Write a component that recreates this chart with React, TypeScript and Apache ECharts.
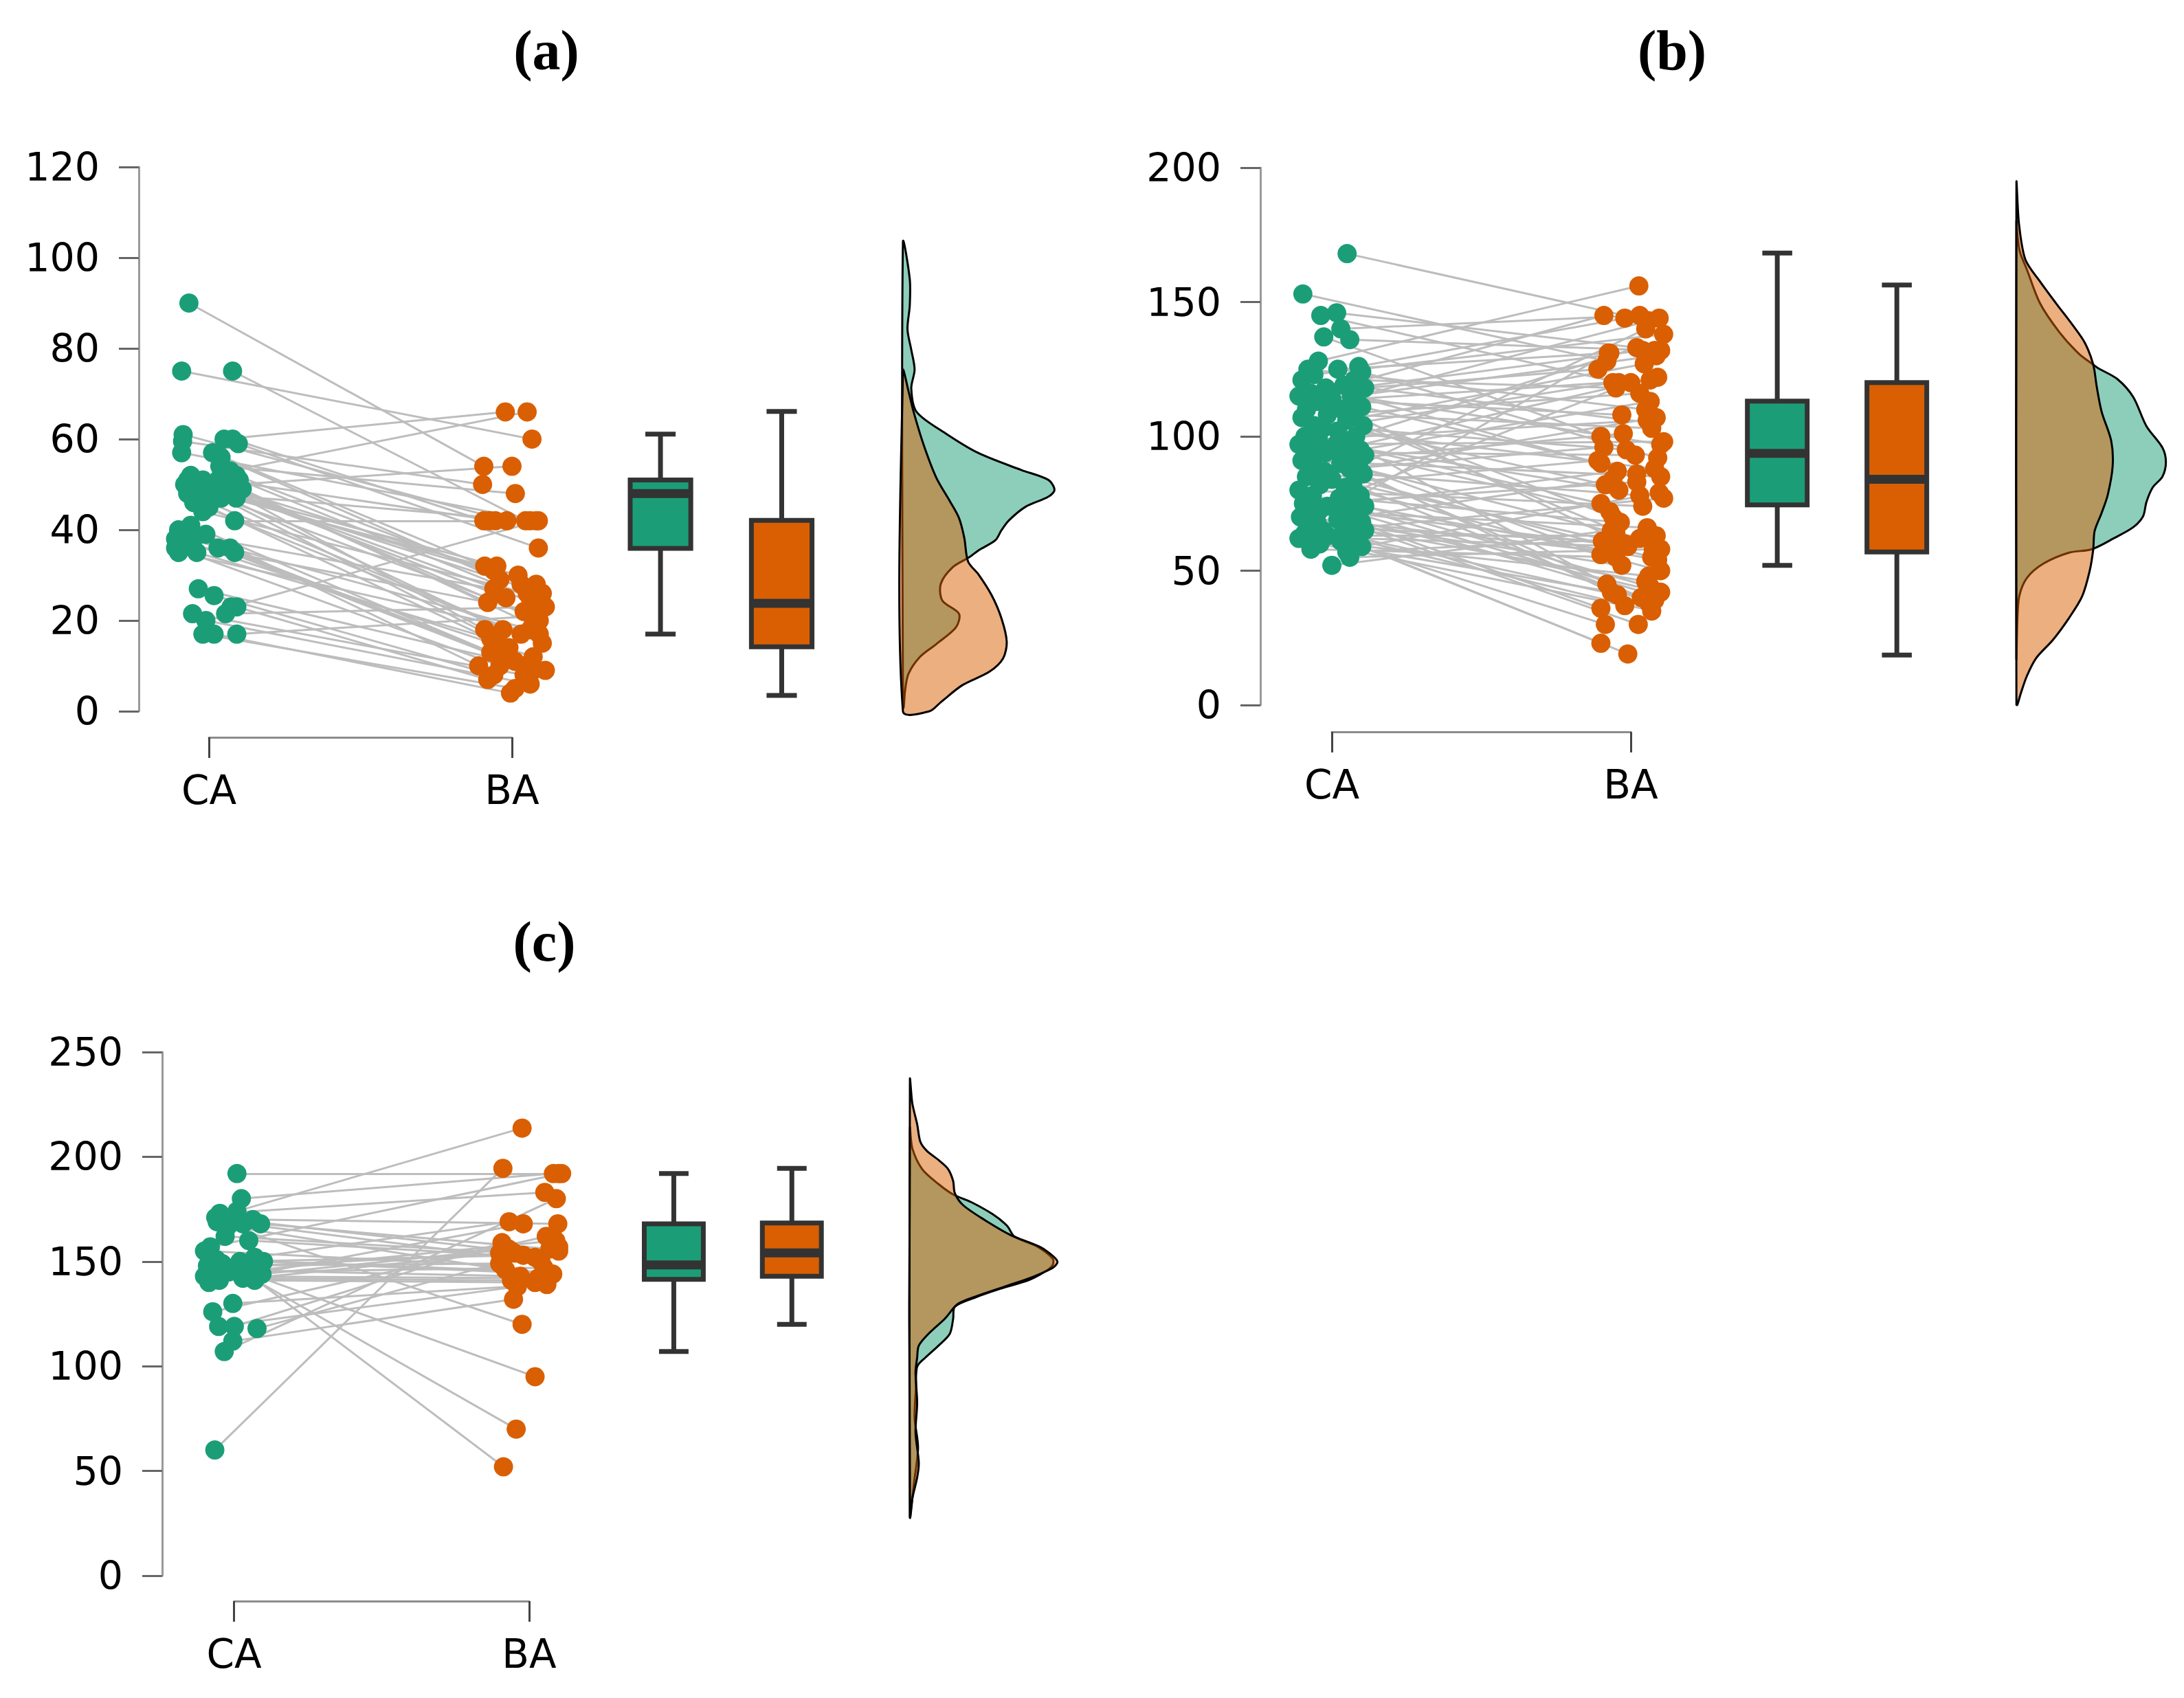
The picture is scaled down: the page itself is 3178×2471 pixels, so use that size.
import React, { useEffect, useRef } from 'react';
import * as echarts from 'echarts';

const GREEN = '#1b9e77';
const ORANGE = '#d95f02';
const GREEN_FILL = 'rgba(27,158,119,0.5)';
const ORANGE_FILL = 'rgba(217,95,2,0.5)';
const FONT = '"DejaVu Sans", Verdana, sans-serif';

const groupLabels = ['CA', 'BA'];
const panelTitles = ['(a)', '(b)', '(c)'];
const yMaxes = [120, 200, 250];
const ySteps = [20, 50, 50];

// ---------- Panel (a) ----------
const caA = [90, 75, 75, 61, 60, 60, 59.5, 59, 57, 57, 56, 54, 53, 52, 52, 51, 51, 51, 51, 50, 50, 50, 50, 50, 49, 49, 49, 48, 48, 48, 48, 47, 47, 46, 45, 44, 42, 41, 40, 39, 39, 38, 38, 37, 36, 36, 36, 35, 35, 35, 27, 25.5, 23, 23, 21.5, 21.5, 20, 17, 17, 17];
const baA = [54, 60, 42, 42, 66, 42, 50, 36, 42, 32, 29, 48, 66, 42, 28, 26, 31, 24, 25, 32, 23, 54, 22, 20, 30, 18, 19, 17, 42, 18, 25, 16, 28, 15, 14, 26, 42, 13, 12, 27, 10, 12, 11, 24, 10, 9, 18, 17, 16, 10, 9, 8, 42, 7, 8, 23, 6, 5, 4, 21];
const caJitA = [-0.066, -0.09, 0.078, -0.085, 0.05, 0.078, -0.087, 0.097, -0.09, 0.012, 0.04, 0.036, 0.07, -0.06, 0.09, -0.07, -0.02, 0.03, 0.1, -0.05, 0.01, 0.09, -0.08, 0.05, -0.04, 0.06, 0.11, -0.07, -0.01, 0.03, 0.08, 0.04, 0.09, -0.05, 0, -0.02, 0.085, -0.06, -0.1, -0.08, -0.01, -0.11, -0.05, -0.09, -0.11, 0.03, 0.07, -0.1, -0.04, 0.085, -0.035, 0.017, 0.073, 0.092, -0.054, 0.055, -0.01, -0.02, 0.017, 0.092];
const baJitA = [-0.093, 0.066, 0.045, -0.017, -0.022, -0.093, -0.097, 0.087, 0.08, -0.09, -0.04, 0.011, 0.05, -0.055, 0.03, 0.1, -0.06, -0.08, 0.06, -0.05, 0.11, 0, 0.04, 0.09, 0.02, -0.09, 0.07, 0.03, 0.06, -0.03, -0.02, -0.05, 0.08, 0.1, -0.01, 0.05, -0.074, -0.07, -0.03, -0.06, -0.11, 0.07, 0.01, -0.08, -0.04, 0.07, 0.06, 0.09, -0.07, 0.04, 0.11, -0.06, 0.087, -0.08, 0.04, 0.1, 0.06, 0.01, -0.005, 0.08];
// [min, Q1, median, Q3, max]
const boxA_CA = [17, 35.9, 48, 51, 61.1];
const boxA_BA = [3.5, 14.2, 23.8, 42.1, 66.1];
// [value, relative density]
const densA_CA = [[103.4, 0], [95.3, 0.045], [89.4, 0.045], [84.2, 0.03], [79.7, 0.055], [75.3, 0.077], [71.2, 0.055], [66, 0.09], [61.3, 0.28], [56.9, 0.5], [53.2, 0.78], [51, 0.96], [48.8, 1], [47.3, 0.96], [45.1, 0.81], [42.1, 0.7], [39.9, 0.65], [37.7, 0.61], [35.5, 0.5], [34, 0.44], [31.8, 0.33], [28.1, 0.25], [24.4, 0.26], [21.5, 0.37], [18.5, 0.35], [14.8, 0.22], [11.9, 0.11], [8.2, 0.036], [4.5, 0.014], [0.8, 0.005]];
const densA_BA = [[75.1, 0], [70.7, 0.036], [66.3, 0.068], [58.9, 0.135], [51.5, 0.22], [46.3, 0.31], [42.6, 0.37], [38.2, 0.405], [33, 0.43], [30.1, 0.5], [25.6, 0.585], [20.5, 0.65], [15.3, 0.685], [11.6, 0.66], [8.7, 0.57], [5.7, 0.39], [2, 0.25], [0, 0.175]];

// ---------- Panel (b) ----------
const caB = [
  168, 153, 146, 145, 140, 137, 136, 128, 126, 125, 125, 124, 123, 121, 121, 119, 118, 118, 116, 115, 115, 114, 113, 113,
  111, 110, 110, 108, 108, 107, 106, 104, 104, 103, 102, 100, 100, 99, 98, 97, 97, 95, 95, 94, 94, 93, 93, 92,
  91, 90, 89, 88, 88, 87, 86, 85, 84, 82, 82, 81, 80, 78, 78, 77, 76, 75, 75, 74, 74, 73, 72, 72,
  71, 70, 69, 68, 68, 67, 66, 66, 65, 65, 64, 63, 63, 62, 62, 61, 61, 60, 60, 59, 58, 57, 55, 52];
const baB = [
  143, 128, 132, 120, 145, 100, 132, 156, 144, 110, 131, 92, 138, 118, 105, 145, 86, 125, 132, 97, 70, 130, 108, 121,
  90, 144, 62, 116, 103, 82, 127, 95, 58, 120, 88, 75, 133, 106, 45, 98, 80, 113, 56, 93, 122, 72, 40, 101,
  85, 64, 140, 55, 96, 78, 42, 107, 60, 38, 91, 50, 74, 131, 41, 68, 83, 36, 54, 87, 44, 120, 60, 66,
  39, 57, 30, 84, 42, 52, 35, 61, 23, 46, 77, 41, 63, 59, 40, 30, 48, 19, 37, 79, 55, 62, 58, 65];
const caJitB = [
  0.051, -0.097, 0.016, -0.037, 0.03, -0.027, 0.06, -0.045, 0.09, -0.08, 0.02, 0.1, -0.06, 0.075, -0.1, 0.04, -0.02, 0.11, -0.07, 0.065, -0.11, 0, 0.085, -0.05,
  0.1, -0.085, 0.035, -0.015, 0.07, -0.1, 0.05, -0.06, 0.105, -0.03, 0.02, -0.09, 0.08, -0.045, 0.06, -0.11, 0.015, 0.095, -0.07, 0.04, -0.02, 0.11, -0.055, 0.075,
  -0.1, 0.03, 0.09, -0.06, 0.06, -0.025, 0.105, -0.085, 0, 0.07, -0.04, 0.045, -0.11, 0.095, -0.065, 0.025, 0.08, -0.095, 0.05, -0.015, 0.11, -0.075, 0.035, -0.045,
  0.09, -0.105, 0.02, -0.05, 0.1, 0.065, -0.08, 0.04, -0.03, 0.11, -0.09, 0.055, -0.015, 0.085, -0.11, 0.03, -0.06, 0.075, -0.04, 0.1, -0.07, 0.05, 0.06, 0];
const baJitB = [
  0.06, -0.08, 0.1, -0.04, 0.03, -0.1, 0.08, 0.027, -0.02, 0.05, -0.07, 0.09, 0.11, -0.05, 0.07, -0.09, 0.02, -0.11, 0.04, 0.1, -0.06, 0.085, -0.03, 0.065,
  -0.1, 0.095, -0.055, 0.03, 0.07, -0.085, 0.045, -0.015, 0.1, -0.06, 0.08, -0.1, 0.02, 0.055, -0.08, 0.11, -0.04, 0.065, -0.1, 0.015, 0.09, -0.07, 0.035, -0.025,
  0.1, -0.05, 0.05, 0.07, -0.09, 0.03, -0.065, 0.085, -0.02, 0.06, -0.11, 0.1, 0.04, -0.075, 0.075, -0.035, 0.02, -0.1, 0.09, -0.045, 0.065, 0, -0.085, 0.055,
  0.08, -0.07, 0.025, -0.06, 0.1, -0.03, 0.07, -0.095, -0.1, 0.05, 0.11, -0.045, 0.085, -0.01, 0.045, -0.085, 0.06, -0.01, -0.02, 0.095, -0.05, 0.03, 0.075, -0.065];
const boxB_CA = [52, 74.5, 93.7, 113.1, 168.2];
const boxB_BA = [18.6, 57, 84, 120, 156.3];
const densB_CA = [[180, 0], [175.5, 0.006], [168.8, 0.023], [162.1, 0.07], [149.6, 0.157], [138.8, 0.287], [130.8, 0.417], [126.7, 0.514], [125.4, 0.546], [121.3, 0.676], [114.6, 0.782], [103.8, 0.87], [95.8, 0.977], [90.4, 1], [85, 0.977], [81, 0.912], [75.6, 0.87], [70.2, 0.847], [66.2, 0.782], [62.1, 0.653], [58, 0.505], [56.7, 0.352], [52.6, 0.18], [47.3, 0.07], [40.5, 0.019], [31.1, 0.006], [17.6, 0]];
const densB_BA = [[194.3, 0], [179.2, 0.017], [165.8, 0.06], [157.7, 0.157], [149.6, 0.264], [141.5, 0.375], [134.8, 0.458], [126.7, 0.514], [118.6, 0.537], [109.2, 0.57], [98.4, 0.634], [89, 0.644], [78.2, 0.611], [71.5, 0.57], [64.7, 0.523], [58, 0.514], [49.9, 0.49], [40.5, 0.44], [32.4, 0.352], [24.3, 0.245], [17.6, 0.134], [10.8, 0.07], [4.1, 0.028], [0.1, 0.006]];

// ---------- Panel (c) ----------
const caC = [192, 180, 174, 173, 171, 170, 169, 168, 168, 167, 162, 160, 157, 155, 152, 151, 150, 150, 149, 148, 148, 147, 146, 146, 145, 145, 144, 143, 142, 141, 141, 140, 130, 126, 119, 119, 118, 112, 107, 60];
const baC = [192, 192, 213.7, 183, 155, 168, 120, 150, 156, 146, 154, 152, 192, 148, 169, 145, 153, 144, 95, 155, 149, 70, 160, 143, 52, 147, 156, 142, 141, 168, 140, 154, 139, 162, 138, 159, 157, 132, 180, 194.5];
const caJitC = [0.01, 0.025, 0.01, -0.048, -0.062, 0.064, -0.057, 0.03, 0.09, -0.02, -0.03, 0.05, -0.08, -0.1, 0.07, -0.06, 0.02, 0.1, -0.04, 0.06, -0.09, 0, 0.085, -0.07, 0.04, -0.02, 0.095, -0.1, 0.03, -0.05, 0.07, -0.085, -0.004, -0.072, -0.052, 0.001, 0.078, -0.004, -0.033, -0.065];
const baJitC = [0.1, 0.082, -0.024, 0.053, -0.06, 0.097, -0.024, 0.04, 0.07, -0.08, -0.05, 0.02, 0.11, -0.09, -0.068, 0.06, -0.02, 0.08, 0.02, 0.1, -0.1, -0.044, 0.09, -0.03, -0.087, 0.05, -0.07, 0.03, -0.06, -0.02, 0.02, -0.1, 0.06, 0.058, -0.04, -0.092, 0.1, -0.053, 0.092, -0.089];
const boxC_CA = [107, 141.5, 148.4, 168, 192];
const boxC_BA = [120, 143, 154.1, 168.4, 194.5];
const densC_CA = [[213.7, 0], [204.1, 0.016], [194.2, 0.082], [187, 0.193], [182, 0.293], [178.4, 0.414], [172.7, 0.558], [167, 0.659], [162, 0.707], [157, 0.866], [151.3, 0.968], [148.4, 0.968], [145.5, 0.922], [141.3, 0.811], [137, 0.613], [132.7, 0.438], [128.4, 0.304], [122.7, 0.293], [115.5, 0.27], [109.8, 0.193], [104.1, 0.104], [99.8, 0.049], [89.7, 0.041], [75.4, 0.032], [61.1, 0.055], [44, 0.027], [28.2, 0]];
const densC_BA = [[237, 0], [225.6, 0.016], [215.6, 0.049], [207.1, 0.071], [202.8, 0.115], [198.5, 0.193], [194.2, 0.258], [188.4, 0.293], [182.7, 0.304], [177, 0.359], [169.8, 0.507], [162.7, 0.68], [157, 0.88], [152.7, 0.968], [149.8, 1], [147, 0.968], [142.7, 0.834], [138.4, 0.659], [134.1, 0.479], [129.8, 0.326], [122.7, 0.237], [115.5, 0.126], [109.8, 0.06], [104.1, 0.049], [97, 0.038], [82.6, 0.049], [68.3, 0.038], [54, 0.06], [46.8, 0.049], [36.8, 0.016], [28.2, 0]];

const PANELS = [
  { ca: caA, ba: baA, caJ: caJitA, baJ: baJitA, boxes: [boxA_CA, boxA_BA], dens: [densA_CA, densA_BA] },
  { ca: caB, ba: baB, caJ: caJitB, baJ: baJitB, boxes: [boxB_CA, boxB_BA], dens: [densB_CA, densB_BA] },
  { ca: caC, ba: baC, caJ: caJitC, baJ: baJitC, boxes: [boxC_CA, boxC_BA], dens: [densC_CA, densC_BA] },
];

// ---------- layout (pixels) ----------
const LAYOUT = [
  { axisX: 202, caX: 304, baX: 745, yTop: 243, yBot: 1035, bracketY: 1073, titleX: 795, titleY: 73 },
  { axisX: 1834, caX: 1938, baX: 2373, yTop: 244, yBot: 1026, bracketY: 1065, titleX: 2433, titleY: 73 },
  { axisX: 236, caX: 340.5, baX: 770, yTop: 1531, yBot: 2293, bracketY: 2330, titleX: 792, titleY: 1370 },
];
const X_MAX = 3.85;
const BOX_POS = [2.49, 2.89];
const BOX_W = 0.2;
const CAP_W = 0.1;
const DENS_BASE = 3.29;
const DENS_SCALE = 0.5;

function boxRenderer(params: any, api: any) {
  const x = api.value(0);
  const lo = api.value(1), q1 = api.value(2), md = api.value(3), q3 = api.value(4), hi = api.value(5);
  const fill = params.dataIndex === 0 ? GREEN : ORANGE;
  const left = api.coord([x - BOX_W / 2, q3])[0];
  const right = api.coord([x + BOX_W / 2, q3])[0];
  const cx = api.coord([x, q3])[0];
  const capL = api.coord([x - CAP_W / 2, q3])[0];
  const capR = api.coord([x + CAP_W / 2, q3])[0];
  const yLo = api.coord([x, lo])[1];
  const yQ1 = api.coord([x, q1])[1];
  const yMd = api.coord([x, md])[1];
  const yQ3 = api.coord([x, q3])[1];
  const yHi = api.coord([x, hi])[1];
  const ls = { stroke: '#333333', lineWidth: 7, lineCap: 'butt' };
  return {
    type: 'group',
    children: [
      { type: 'line', shape: { x1: cx, y1: yHi, x2: cx, y2: yQ3 }, style: ls },
      { type: 'line', shape: { x1: cx, y1: yQ1, x2: cx, y2: yLo }, style: ls },
      { type: 'line', shape: { x1: capL, y1: yHi, x2: capR, y2: yHi }, style: ls },
      { type: 'line', shape: { x1: capL, y1: yLo, x2: capR, y2: yLo }, style: ls },
      { type: 'rect', shape: { x: left, y: yQ3, width: right - left, height: yQ1 - yQ3 }, style: { fill, stroke: '#333333', lineWidth: 7 } },
      { type: 'line', shape: { x1: left, y1: yMd, x2: right, y2: yMd }, style: { stroke: '#333333', lineWidth: 13 } },
    ],
  };
}

function makeDensityRenderer(curves: number[][][]) {
  return (params: any, api: any) => {
    const idx = params.dataIndex;
    const curve = curves[idx];
    const base = api.value(0);
    const pts: number[][] = [];
    if (curve[0][1] !== 0) pts.push(api.coord([base, curve[0][0]]));
    curve.forEach(([v, d]) => pts.push(api.coord([base + d * DENS_SCALE, v])));
    if (curve[curve.length - 1][1] !== 0) pts.push(api.coord([base, curve[curve.length - 1][0]]));
    return {
      type: 'polygon',
      shape: { points: pts, smooth: 0.3 },
      style: { fill: idx === 0 ? GREEN_FILL : ORANGE_FILL, stroke: '#000000', lineWidth: 3 },
    };
  };
}

function buildOption() {
  const grid: any[] = [];
  const xAxis: any[] = [];
  const yAxis: any[] = [];
  const series: any[] = [];
  const graphic: any[] = [];

  PANELS.forEach((p, i) => {
    const L = LAYOUT[i];
    const unit = L.baX - L.caX;
    const xMin = 1 - (L.caX - L.axisX) / unit;
    const gi = i * 2;
    const bi = i * 2 + 1;

    grid.push({ left: L.axisX, top: L.yTop, width: (X_MAX - xMin) * unit, height: L.yBot - L.yTop });
    grid.push({ left: L.caX, top: L.bracketY - 1, width: unit, height: 1 });

    xAxis.push({ type: 'value', gridIndex: gi, min: xMin, max: X_MAX, show: false });
    xAxis.push({
      type: 'value', gridIndex: bi, min: 1, max: 2, interval: 1,
      axisLine: { show: true, onZero: false, lineStyle: { color: '#8c8c8c', width: 3 } },
      axisTick: { show: true, length: 30, lineStyle: { color: '#444444', width: 3 } },
      axisLabel: {
        show: true, showMinLabel: true, showMaxLabel: true,
        formatter: (v: number) => (v === 1 ? groupLabels[0] : v === 2 ? groupLabels[1] : ''),
        fontSize: 58, fontFamily: FONT, color: '#000000', margin: 48,
      },
      splitLine: { show: false },
    });

    yAxis.push({
      type: 'value', gridIndex: gi, min: 0, max: yMaxes[i], interval: ySteps[i],
      axisLine: { show: true, onZero: false, lineStyle: { color: '#9a9a9a', width: 3 } },
      axisTick: { show: true, length: 29, lineStyle: { color: '#666666', width: 3 } },
      axisLabel: { show: true, fontSize: 57, fontFamily: FONT, color: '#000000', margin: 57 },
      splitLine: { show: false },
    });
    yAxis.push({ type: 'value', gridIndex: bi, show: false, min: 0, max: 1 });

    series.push({
      type: 'lines', coordinateSystem: 'cartesian2d', xAxisIndex: gi, yAxisIndex: gi, z: 1, silent: true,
      lineStyle: { color: '#bdbdbd', width: 3, opacity: 1 },
      data: p.ca.map((v, k) => ({ coords: [[1 + p.caJ[k], v], [2 + p.baJ[k], p.ba[k]]] })),
    });
    series.push({
      type: 'scatter', xAxisIndex: gi, yAxisIndex: gi, z: 3, symbolSize: 28, silent: true,
      itemStyle: { color: GREEN, opacity: 1 },
      data: p.ca.map((v, k) => [1 + p.caJ[k], v]),
    });
    series.push({
      type: 'scatter', xAxisIndex: gi, yAxisIndex: gi, z: 3, symbolSize: 28, silent: true,
      itemStyle: { color: ORANGE, opacity: 1 },
      data: p.ba.map((v, k) => [2 + p.baJ[k], v]),
    });
    series.push({
      type: 'custom', xAxisIndex: gi, yAxisIndex: gi, z: 2, silent: true,
      renderItem: boxRenderer,
      encode: { x: 0, y: [1, 2, 3, 4, 5] },
      data: p.boxes.map((b, k) => [BOX_POS[k], ...b]),
    });
    series.push({
      type: 'custom', xAxisIndex: gi, yAxisIndex: gi, z: 2, silent: true,
      renderItem: makeDensityRenderer(p.dens),
      encode: { x: 0, y: 1 },
      data: p.dens.map((c) => [DENS_BASE, c[0][0]]),
    });

    graphic.push({
      type: 'text', x: L.titleX, y: L.titleY,
      style: {
        text: panelTitles[i], fontSize: 82, fontWeight: 'bold', fontFamily: '"Liberation Serif", "Times New Roman", serif',
        fill: '#000000', align: 'center', verticalAlign: 'middle',
      },
    });
  });

  return { animation: false, backgroundColor: '#ffffff', grid, xAxis, yAxis, series, graphic };
}

export default function App() {
  const ref = useRef<HTMLDivElement>(null);
  useEffect(() => {
    document.body.style.margin = '0';
    const chart = echarts.init(ref.current as HTMLDivElement, null, { renderer: 'svg' });
    chart.setOption(buildOption() as any);
    return () => chart.dispose();
  }, []);
  return <div ref={ref} style={{ width: 3178, height: 2471 }} />;
}
